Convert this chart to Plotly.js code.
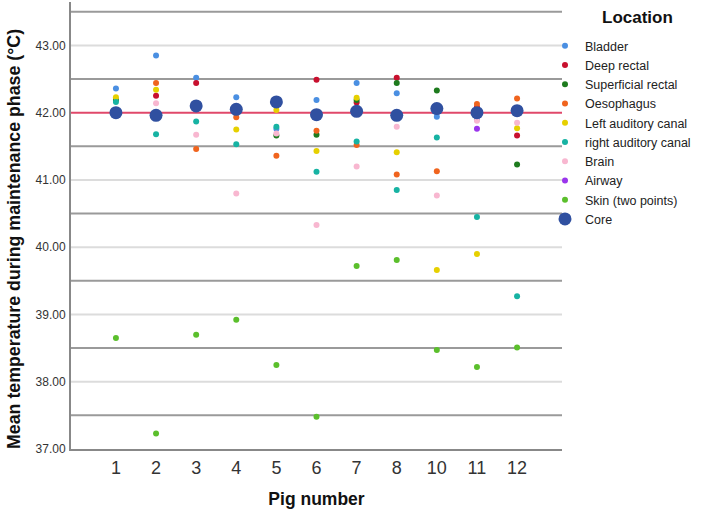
<!DOCTYPE html>
<html>
<head>
<meta charset="utf-8">
<script src="https://cdn.plot.ly/plotly-3.0.1.min.js"></script>
<style>html,body{margin:0;padding:0;background:#fff;}#chart{width:709px;height:514px;}</style>
</head>
<body>
<div id="chart"></div>
<script>
// Pig numbers (categories)
const pigs = ['1','2','3','4','5','6','7','8','10','11','12'];

// Mean temperature during maintenance phase per location
const bladder     = [42.36, 42.85, 42.52, 42.23, 41.76, 42.19, 42.44, 42.29, 41.94, 41.90, null];
const deepRectal  = [null, 42.25, 42.44, null, null, 42.49, 42.15, 42.52, null, 42.08, 41.66];
const superficialRectal = [42.19, null, null, null, 41.66, 41.67, 42.19, 42.44, 42.33, null, 41.23];
const oesophagus  = [null, 42.44, 41.46, 41.93, 41.36, 41.73, 41.52, 41.08, 41.13, 42.13, 42.21];
const leftAuditory  = [42.23, 42.34, null, 41.75, 42.04, 41.43, 42.22, 41.41, 39.66, 39.90, 41.77];
const rightAuditory = [42.16, 41.68, 41.87, 41.53, 41.79, 41.12, 41.57, 40.85, 41.63, 40.45, 39.27];
const brain       = [null, 42.14, 41.67, 40.80, 41.69, 40.33, 41.20, 41.79, 40.77, 41.88, 41.85];
const airway      = [null, null, null, null, null, null, null, 41.94, null, 41.76, null];
const skin        = [38.65, 37.23, 38.70, 38.92, 38.25, 37.48, 39.72, 39.81, 38.47, 38.22, 38.51];
const core        = [42.00, 41.96, 42.10, 42.05, 42.16, 41.97, 42.02, 41.96, 42.06, 42.00, 42.03];

const targetTemp = 42;
const yTicks = [37, 38, 39, 40, 41, 42, 43];
const halfLines = [37.5, 38.5, 39.5, 40.5, 41.5, 42.5, 43.5];

const series = [
  ['Bladder', bladder, '#4a8fe2', 6],
  ['Deep rectal', deepRectal, '#c8102e', 6],
  ['Superficial rectal', superficialRectal, '#1e7b1e', 6],
  ['Oesophagus', oesophagus, '#f0641e', 6],
  ['Left auditory canal', leftAuditory, '#e6d000', 6],
  ['right auditory canal', rightAuditory, '#17b3a3', 6],
  ['Brain', brain, '#f8b7d0', 6],
  ['Airway', airway, '#9a35ec', 6],
  ['Skin (two points)', skin, '#5bbf2c', 6],
  ['Core', core, '#3050a0', 13]
];

const traces = series.map(([name, vals, color, size]) => ({
  type: 'scatter', mode: 'markers', name: name,
  x: pigs, y: vals,
  marker: {color: color, size: size, line: {width: 0}},
  cliponaxis: false
}));

const hline = (v, color) => ({
  type: 'line', xref: 'paper', x0: 0, x1: 1, yref: 'y', y0: v, y1: v,
  line: {color: color, width: 2}, layer: 'below'
});
const shapes = [];
yTicks.filter(v => v !== 37 && v !== targetTemp).forEach(v => shapes.push(hline(v, '#dcdcdc')));
halfLines.forEach(v => shapes.push(hline(v, '#9a9a9a')));
shapes.push(hline(targetTemp, '#e0486a'));

// plot area: 71..562 px horizontally, 2..449 px vertically
const W = 709, H = 514, L = 71, R = 147, T = 2, B = 65;
const pw = W - L - R, ph = H - T - B;
const px = x => (x - L) / pw;
const py = y => 1 - (y - T) / ph;

const layout = {
  width: W, height: H,
  margin: {l: L, r: R, t: T, b: B},
  paper_bgcolor: '#fff', plot_bgcolor: '#fff',
  font: {family: 'Liberation Sans, Arial, sans-serif', color: '#222'},
  showlegend: true,
  xaxis: {
    type: 'category', range: [-1.12, 11.12],
    showgrid: false, zeroline: false,
    showline: true, linecolor: '#888', linewidth: 2,
    ticks: '', tickfont: {family: 'Liberation Sans Narrow, Arial Narrow, sans-serif', size: 18, color: '#333'},
    ticklabelstandoff: 1,
    title: {text: '<b>Pig number</b>', font: {size: 17.5, color: '#111'}, standoff: 16}
  },
  yaxis: {
    range: [37, 43.645],
    tickvals: yTicks,
    tickformat: '.2f',
    showgrid: false,
    zeroline: false,
    showline: true, linecolor: '#888', linewidth: 2,
    ticks: '', tickfont: {size: 12, color: '#333'},
    ticklabelstandoff: 1
  },
  legend: {
    x: px(545), xanchor: 'left', y: py(31), yanchor: 'top',
    bgcolor: 'rgba(0,0,0,0)',
    font: {size: 12.5, color: '#222'},
    itemsizing: 'trace', tracegroupgap: 0
  },
  annotations: [
    {text: '<b>Location</b>', xref: 'paper', yref: 'paper', x: px(637), y: py(18),
     xanchor: 'center', yanchor: 'middle', showarrow: false, font: {size: 17, color: '#111'}},
    {text: '<b>Mean temperature during maintenance phase (°C)</b>', xref: 'paper', yref: 'paper',
     x: px(14), y: py(239), xanchor: 'center', yanchor: 'middle', textangle: -90,
     showarrow: false, font: {size: 17.8, color: '#111'}}
  ],
  shapes: shapes
};

Plotly.newPlot('chart', traces, layout, {displayModeBar: false, staticPlot: true});
</script>
</body>
</html>
